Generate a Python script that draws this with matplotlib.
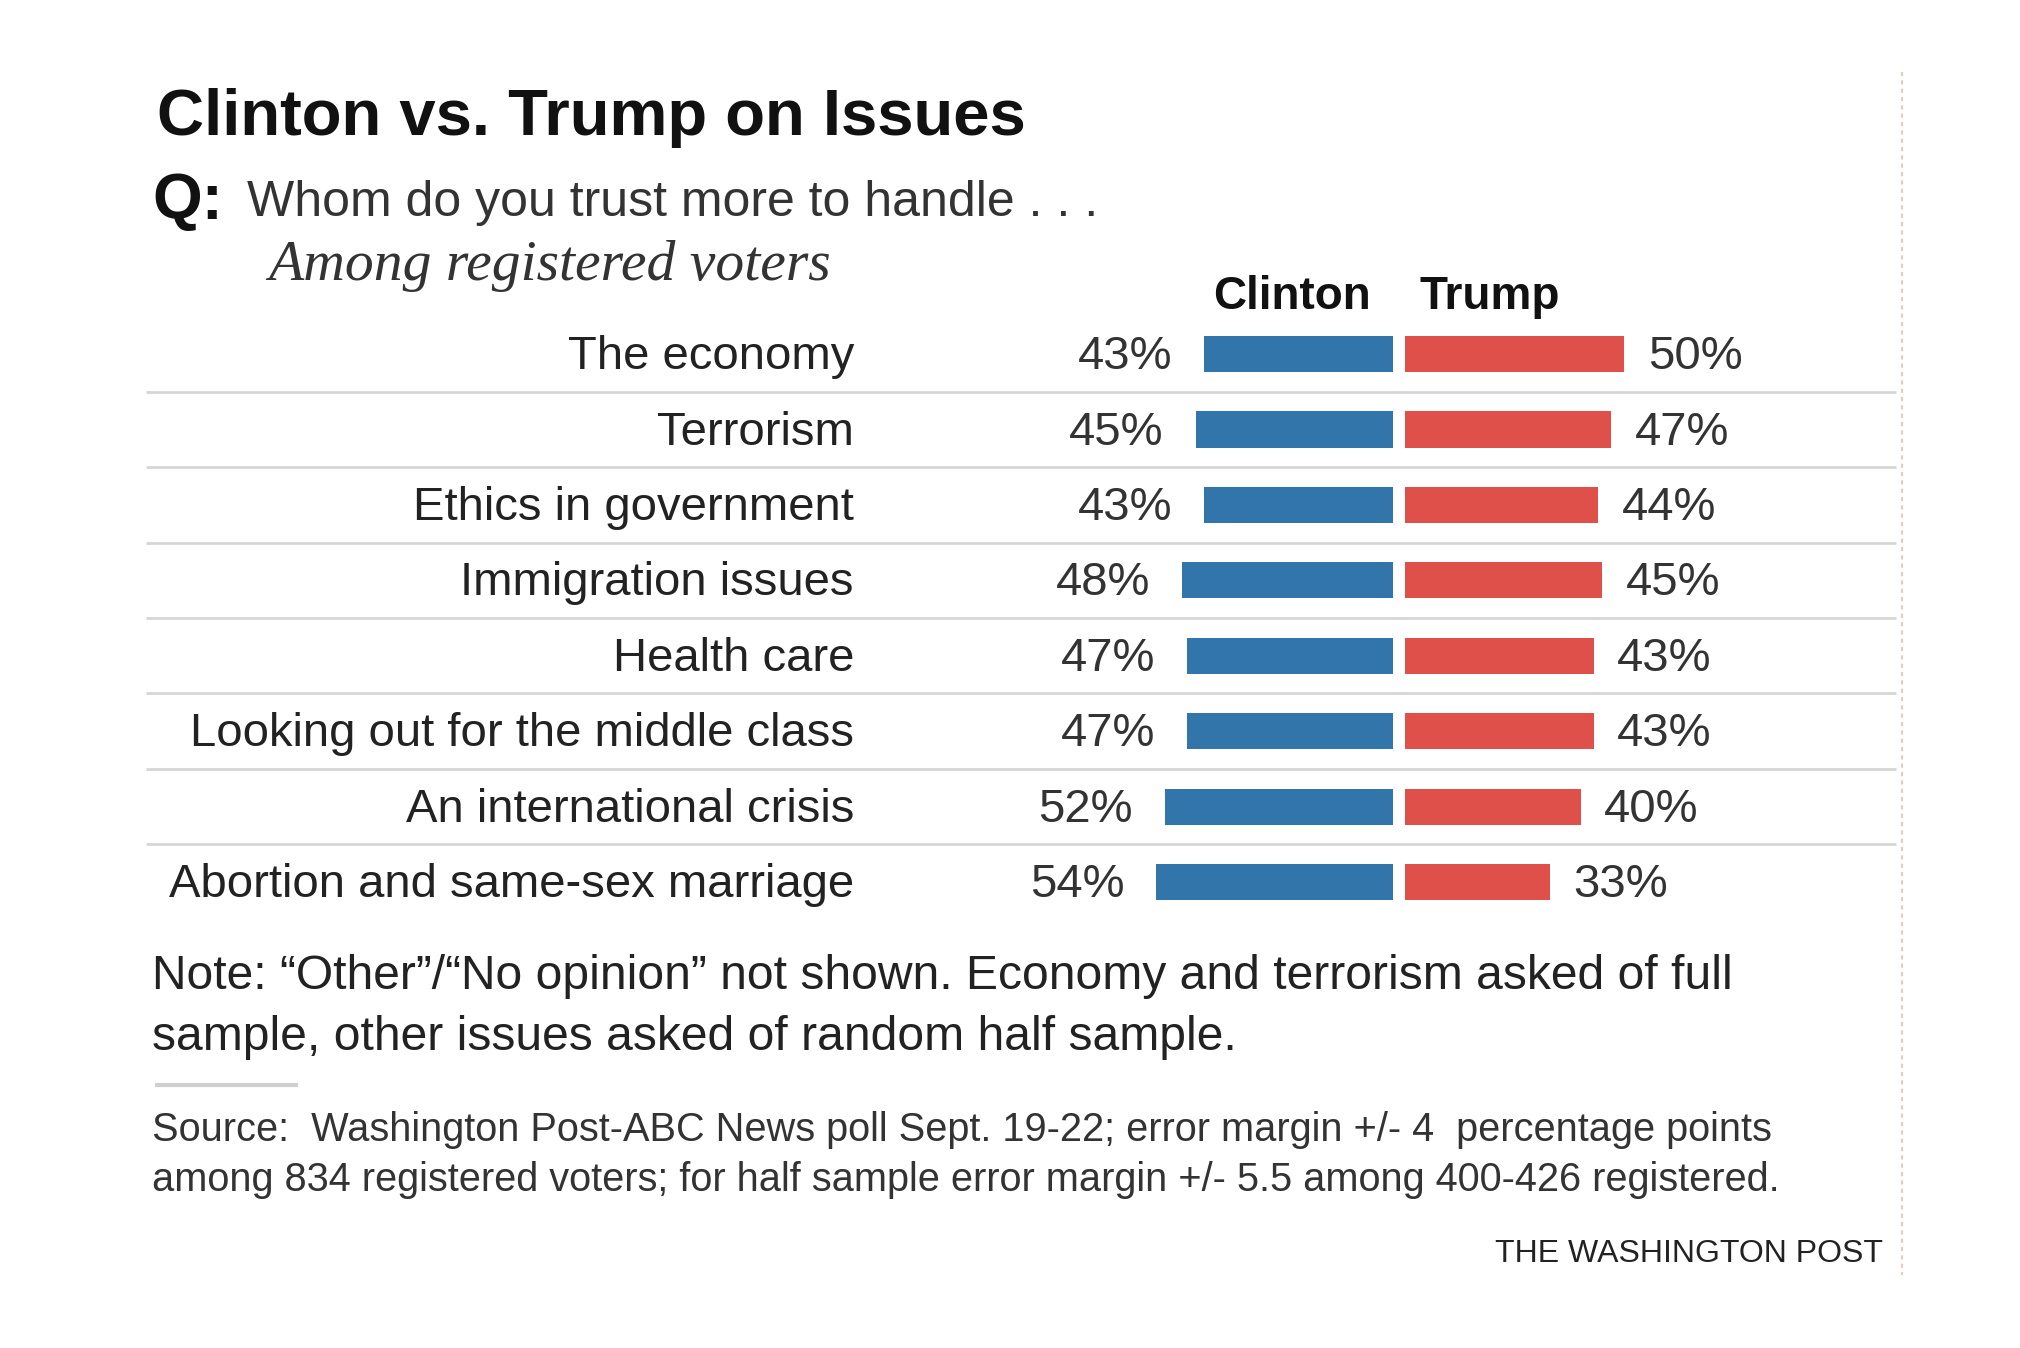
# Clinton vs. Trump on Issues - Washington Post-ABC poll

import matplotlib.pyplot as plt
from matplotlib.transforms import blended_transform_factory

# DATA
issues = ['The economy', 'Terrorism', 'Ethics in government', 'Immigration issues',
          'Health care', 'Looking out for the middle class', 'An international crisis',
          'Abortion and same-sex marriage']
clinton = [43, 45, 43, 48, 47, 47, 52, 54]
trump = [50, 47, 44, 45, 43, 43, 40, 33]

BLUE = '#3275aa'
RED = '#e0504a'
SANS = ['Liberation Sans Narrow', 'DejaVu Sans Condensed', 'Liberation Sans']

W, H = 2020, 1348
fig = plt.figure(figsize=(W / 100, H / 100), dpi=100)
fig.patch.set_facecolor('white')
ax = fig.add_axes([0, 0, 1, 1])
ax.set_axis_off()

# eksen: x yuzde puan (0 = merkez), y satir numarasi
px_per_pt = 4.38
center = 1399
ax.set_xlim(-center / px_per_pt, (W - center) / px_per_pt)
row0, row_step = 354, 75.44
ax.set_ylim((H - row0) / row_step, -row0 / row_step)

gap = 1.45
rows = list(range(len(issues)))
ax.barh(rows, [-v for v in clinton], left=-gap, height=0.48, color=BLUE)
ax.barh(rows, trump, left=gap, height=0.48, color=RED)

trans = blended_transform_factory(fig.transFigure, ax.transData)

# satir ayirici cizgiler
ax.hlines([r + 0.5 for r in rows[:-1]], 146 / W, 1896 / W, transform=trans,
          color='#d6d6d6', lw=2)

for r, name, c, t in zip(rows, issues, clinton, trump):
    ax.text(854 / W, r + 0.2, name, transform=trans, ha='right', va='baseline',
            fontsize=34, family=SANS, color='#222222')
    ax.annotate(f'{c}%', (-gap - c, r + 0.2), xytext=(-23, 0), textcoords='offset points',
                ha='right', va='baseline', fontsize=34, family=SANS, color='#333333')
    ax.annotate(f'{t}%', (gap + t, r + 0.2), xytext=(17, 0), textcoords='offset points',
                ha='left', va='baseline', fontsize=34, family=SANS, color='#333333')


def px(x, y):
    return x / W, 1 - y / H


fig.text(*px(157, 135), 'Clinton vs. Trump on Issues', fontsize=47, weight='bold',
         family=SANS, color='#111111', va='baseline')
fig.text(*px(152, 219), 'Q:', fontsize=46, weight='bold', family=SANS,
         color='#111111', va='baseline')
fig.text(*px(247, 216), 'Whom do you trust more to handle . . .', fontsize=36,
         family=SANS, color='#333333', va='baseline')
fig.text(*px(268, 280), 'Among registered voters', fontsize=41.5, style='italic',
         family=['Liberation Serif', 'DejaVu Serif'], color='#333333', va='baseline')

fig.text(*px(1292, 309), 'Clinton', fontsize=33, weight='bold', family=SANS,
         color='#111111', ha='center', va='baseline')
fig.text(*px(1490, 309), 'Trump', fontsize=33, weight='bold', family=SANS,
         color='#111111', ha='center', va='baseline')

fig.text(*px(152, 989), 'Note: \u201cOther\u201d/\u201cNo opinion\u201d not shown. Economy and terrorism asked of full',
         fontsize=34.6, family=SANS, color='#222222', va='baseline')
fig.text(*px(152, 1050), 'sample, other issues asked of random half sample.', fontsize=34.6,
         family=SANS, color='#222222', va='baseline')

fig.add_artist(plt.Line2D([157 / W, 296 / W], [1 - 1085 / H, 1 - 1085 / H],
                          color='#cfcfcf', lw=3))

fig.text(*px(152, 1141), 'Source:  Washington Post-ABC News poll Sept. 19-22; error margin +/- 4  percentage points',
         fontsize=28.6, family=SANS, color='#333333', va='baseline')
fig.text(*px(152, 1191), 'among 834 registered voters; for half sample error margin +/- 5.5 among 400-426 registered.',
         fontsize=28.6, family=SANS, color='#333333', va='baseline')
fig.text(*px(1883, 1262), 'THE WASHINGTON POST', fontsize=23, family=SANS,
         color='#222222', ha='right', va='baseline')

# sagdaki noktali dikey cizgi
fig.add_artist(plt.Line2D([1902 / W, 1902 / W], [1 - 72 / H, 1 - 1275 / H],
                          color='#e9cbb8', lw=1.5, ls=(0, (2, 2))))

fig.savefig('out.png', dpi=100, facecolor='white')
